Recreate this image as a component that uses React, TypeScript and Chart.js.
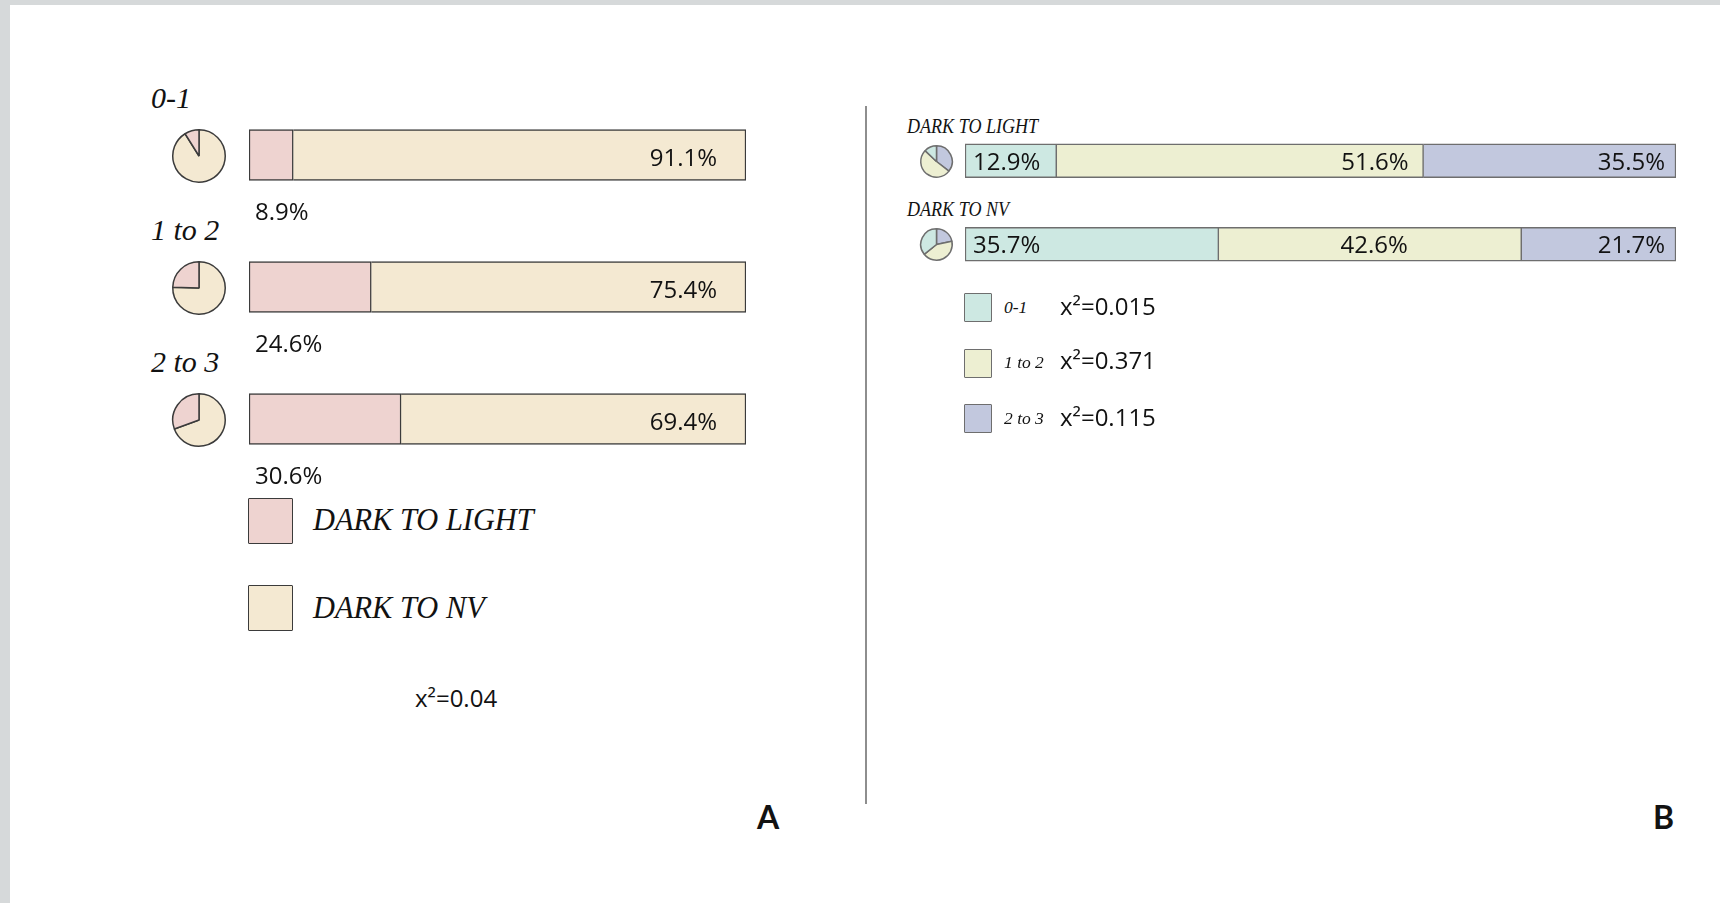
import React, { useEffect, useRef } from "react";
import { Chart, registerables } from "chart.js";

Chart.register(...registerables);

// ---------- data ----------
const ageGroups = ["0-1", "1 to 2", "2 to 3"];
const darkToLight = [8.9, 24.6, 30.6];
const darkToNV = [91.1, 75.4, 69.4];
const leftLegend = ["DARK TO LIGHT", "DARK TO NV"];
const leftChi = "x\u00B2=0.04";

const transitions = ["DARK TO LIGHT", "DARK TO NV"];
const share01 = [12.9, 35.7];
const share12 = [51.6, 42.6];
const share23 = [35.5, 21.7];
const rightChi = ["x\u00B2=0.015", "x\u00B2=0.371", "x\u00B2=0.115"];

// ---------- styles ----------
const PINK = "#EED3D0";
const CREAM = "#F4E9D2";
const TEAL = "#CDE8E2";
const YELLOW = "#EDEFD2";
const LAV = "#C2C8DE";
const DARK = "#3b3b3b";
const GREYB = "#6e6e6e";
const SANS = "'Open Sans', Lato, sans-serif";
const BOLD = "Lato, 'Open Sans', sans-serif";
const SERIF = "'Liberation Serif', 'DejaVu Serif', serif";
const TXT = "#121212";

const fmt = (v: number) => v.toFixed(1) + "%";

const leftLabelsPlugin = {
  id: "leftLabels",
  afterDatasetsDraw(chart: any) {
    const ctx = chart.ctx;
    ctx.save();
    ctx.font = `500 24px ${SANS}`;
    ctx.fillStyle = TXT;
    ctx.textBaseline = "middle";
    const m0 = chart.getDatasetMeta(0);
    const m1 = chart.getDatasetMeta(1);
    m1.data.forEach((bar: any, i: number) => {
      ctx.textAlign = "right";
      ctx.fillText(fmt(darkToNV[i]), bar.x - 29, bar.y + 4);
    });
    m0.data.forEach((bar: any, i: number) => {
      ctx.textAlign = "left";
      ctx.fillText(fmt(darkToLight[i]), bar.base + 6, bar.y + 58);
    });
    ctx.restore();
  },
};

const rightLabelsPlugin = {
  id: "rightLabels",
  afterDatasetsDraw(chart: any) {
    const ctx = chart.ctx;
    ctx.save();
    ctx.font = `500 24px ${SANS}`;
    ctx.fillStyle = TXT;
    ctx.textBaseline = "middle";
    const series = [share01, share12, share23];
    series.forEach((vals, d) => {
      const meta = chart.getDatasetMeta(d);
      meta.data.forEach((bar: any, i: number) => {
        const txt = fmt(vals[i]);
        const y = bar.y + 2;
        if (d === 0) {
          ctx.textAlign = "left";
          ctx.fillText(txt, bar.base + 8, y);
        } else if (d === 2) {
          ctx.textAlign = "right";
          ctx.fillText(txt, bar.x - 11, y);
        } else if (i === 0) {
          ctx.textAlign = "right";
          ctx.fillText(txt, bar.x - 15, y);
        } else {
          ctx.textAlign = "center";
          ctx.fillText(txt, (bar.x + bar.base) / 2 + 4, y);
        }
      });
    });
    ctx.restore();
  },
};

function LeftBars() {
  const ref = useRef<HTMLCanvasElement>(null);
  useEffect(() => {
    const chart = new Chart(ref.current!, {
      type: "bar",
      data: {
        labels: ageGroups,
        datasets: [
          {
            label: leftLegend[0],
            data: darkToLight,
            backgroundColor: PINK,
            borderColor: DARK,
            borderWidth: { top: 1.5, bottom: 1.5, left: 1.5, right: 1.5 },
            borderSkipped: false,
            barThickness: 51,
          },
          {
            label: leftLegend[1],
            data: darkToNV,
            backgroundColor: CREAM,
            borderColor: DARK,
            borderWidth: { top: 1.5, bottom: 1.5, left: 0, right: 1.5 },
            borderSkipped: false,
            barThickness: 51,
          },
        ],
      } as any,
      options: {
        indexAxis: "y",
        responsive: false,
        animation: false,
        layout: { padding: 4 },
        scales: {
          x: { stacked: true, min: 0, max: 100, display: false },
          y: { stacked: true, display: false },
        },
        plugins: { legend: { display: false }, tooltip: { enabled: false } },
      } as any,
      plugins: [leftLabelsPlugin],
    });
    return () => chart.destroy();
  }, []);
  return (
    <canvas
      ref={ref}
      width={505}
      height={404}
      style={{ position: "absolute", left: 245, top: 85 }}
    />
  );
}

function RightBars() {
  const ref = useRef<HTMLCanvasElement>(null);
  useEffect(() => {
    const mk = (label: string, data: number[], color: string, first: boolean) => ({
      label,
      data,
      backgroundColor: color,
      borderColor: GREYB,
      borderWidth: { top: 1.5, bottom: 1.5, left: first ? 1.5 : 0, right: 1.5 },
      borderSkipped: false,
      barThickness: 34,
    });
    const chart = new Chart(ref.current!, {
      type: "bar",
      data: {
        labels: transitions,
        datasets: [
          mk(ageGroups[0], share01, TEAL, true),
          mk(ageGroups[1], share12, YELLOW, false),
          mk(ageGroups[2], share23, LAV, false),
        ],
      } as any,
      options: {
        indexAxis: "y",
        responsive: false,
        animation: false,
        layout: { padding: 4 },
        scales: {
          x: { stacked: true, min: 0, max: 100, display: false },
          y: { stacked: true, display: false },
        },
        plugins: { legend: { display: false }, tooltip: { enabled: false } },
      } as any,
      plugins: [rightLabelsPlugin],
    });
    return () => chart.destroy();
  }, []);
  return (
    <canvas
      ref={ref}
      width={719}
      height={175}
      style={{ position: "absolute", left: 961, top: 115 }}
    />
  );
}

function MiniPie(props: {
  values: number[];
  colors: string[];
  border: string;
  cx: number;
  cy: number;
  r: number;
}) {
  const ref = useRef<HTMLCanvasElement>(null);
  const size = Math.round(props.r * 2 + 4);
  useEffect(() => {
    const chart = new Chart(ref.current!, {
      type: "pie",
      data: {
        labels: props.values.map((_, i) => String(i)),
        datasets: [
          {
            data: props.values,
            backgroundColor: props.colors,
            borderColor: props.border,
            borderWidth: 1.5,
          },
        ],
      },
      options: {
        responsive: false,
        animation: false,
        layout: { padding: 2 },
        plugins: { legend: { display: false }, tooltip: { enabled: false } },
      } as any,
    });
    return () => chart.destroy();
  }, []);
  return (
    <canvas
      ref={ref}
      width={size}
      height={size}
      style={{
        position: "absolute",
        left: props.cx - size / 2,
        top: props.cy - size / 2,
      }}
    />
  );
}

function Label(props: {
  x: number;
  y: number;
  size: number;
  text: string;
  serif?: boolean;
  italic?: boolean;
  bold?: boolean;
  weight?: number;
  sx?: number;
}) {
  return (
    <div
      style={{
        position: "absolute",
        left: props.x,
        top: props.y,
        transform: `translateY(-50%) scaleX(${props.sx ?? 1})`,
        transformOrigin: "left center",
        fontFamily: props.serif ? SERIF : props.bold ? BOLD : SANS,
        fontStyle: props.italic ? "italic" : "normal",
        fontWeight: props.bold ? 700 : props.weight ?? 400,
        fontSize: props.size,
        lineHeight: 1,
        whiteSpace: "nowrap",
        color: TXT,
      }}
    >
      {props.text}
    </div>
  );
}

function Swatch(props: { x: number; y: number; w: number; h: number; color: string; border: string }) {
  return (
    <div
      style={{
        position: "absolute",
        left: props.x,
        top: props.y,
        width: props.w,
        height: props.h,
        boxSizing: "border-box",
        background: props.color,
        border: `1.5px solid ${props.border}`,
        borderRadius: 1,
      }}
    />
  );
}

export default function App() {
  const leftCy = [155.5, 287.5, 420];
  const leftLabelY = [98, 230, 362];
  const rightCy = [161, 244.5];
  const rightTitleY = [126, 209];
  const rightSwatchY = [293, 349, 404];
  const rightTagY = [308, 363, 419];
  const rightChiY = [306, 360, 417];
  const rightColors = [TEAL, YELLOW, LAV];
  return (
    <div
      style={{
        position: "fixed",
        left: 0,
        top: 0,
        width: 1720,
        height: 903,
        background: "#ffffff",
        overflow: "hidden",
      }}
    >
      <div style={{ position: "absolute", left: 0, top: 0, width: 1720, height: 5, background: "#d6d9da" }} />
      <div style={{ position: "absolute", left: 0, top: 0, width: 10, height: 903, background: "#d6d9da" }} />

      {/* Panel A */}
      {ageGroups.map((g, i) => (
        <Label key={"ag" + i} x={151} y={leftLabelY[i]} size={30} text={g} serif italic />
      ))}
      {ageGroups.map((g, i) => (
        <MiniPie
          key={"lp" + i}
          values={[darkToNV[i], darkToLight[i]]}
          colors={[CREAM, PINK]}
          border={DARK}
          cx={199}
          cy={leftCy[i]}
          r={27}
        />
      ))}
      <LeftBars />
      <Swatch x={248} y={498} w={45} h={46} color={PINK} border={DARK} />
      <Swatch x={248} y={585} w={45} h={46} color={CREAM} border={DARK} />
      <Label x={313} y={519} size={32} text={leftLegend[0]} serif italic sx={0.95} />
      <Label x={313} y={607} size={32} text={leftLegend[1]} serif italic sx={0.95} />
      <Label x={415} y={698} size={24} weight={500} text={leftChi} />
      <Label x={757} y={817} size={32} text="A" bold />

      <div style={{ position: "absolute", left: 865, top: 106, width: 2, height: 698, background: "#8e8e8e" }} />

      {/* Panel B */}
      {transitions.map((t, i) => (
        <Label key={"tt" + i} x={907} y={rightTitleY[i]} size={21} text={t} serif italic sx={0.86} />
      ))}
      {transitions.map((t, i) => (
        <MiniPie
          key={"rp" + i}
          values={[share23[i], share12[i], share01[i]]}
          colors={[LAV, YELLOW, TEAL]}
          border={GREYB}
          cx={936}
          cy={rightCy[i]}
          r={16.5}
        />
      ))}
      <RightBars />
      {ageGroups.map((g, i) => (
        <React.Fragment key={"rl" + i}>
          <Swatch x={964} y={rightSwatchY[i]} w={28} h={29} color={rightColors[i]} border={GREYB} />
          <Label x={1004} y={rightTagY[i]} size={17.5} text={g} serif italic />
          <Label x={1060} y={rightChiY[i]} size={24} weight={500} text={rightChi[i]} />
        </React.Fragment>
      ))}
      <Label x={1653} y={817} size={32} text="B" bold />
    </div>
  );
}
